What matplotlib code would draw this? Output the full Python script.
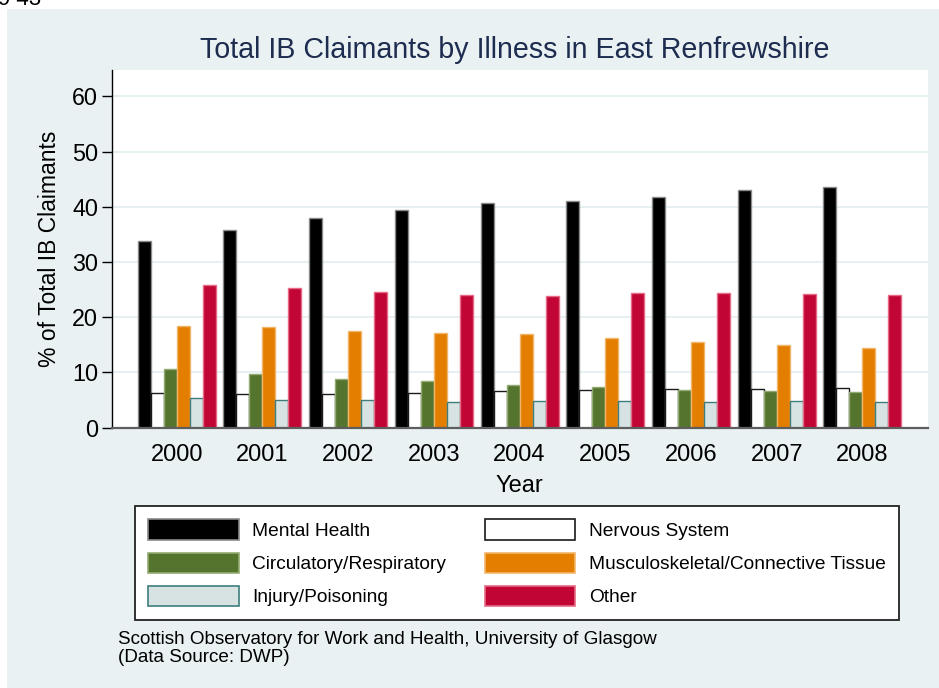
import matplotlib
matplotlib.use("Agg")
import matplotlib.pyplot as plt
from matplotlib.patches import Rectangle, Patch
import numpy as np

plt.rcParams['font.family'] = ['Liberation Sans', 'DejaVu Sans']

years = ["2000", "2001", "2002", "2003", "2004", "2005", "2006", "2007", "2008"]
mental_health = [33.8, 35.8, 38.0, 39.5, 40.7, 41.0, 41.8, 43.0, 43.6]
nervous_system = [6.2, 6.1, 6.1, 6.2, 6.7, 6.8, 7.1, 7.1, 7.2]
circulatory = [10.6, 9.7, 8.8, 8.5, 7.7, 7.3, 6.8, 6.6, 6.5]
musculoskeletal = [18.4, 18.2, 17.5, 17.1, 17.0, 16.2, 15.5, 15.0, 14.4]
injury = [5.3, 5.1, 5.1, 4.7, 4.8, 4.8, 4.7, 4.8, 4.7]
other = [25.8, 25.3, 24.6, 24.1, 23.8, 24.4, 24.4, 24.2, 24.1]

series = [
    ("Mental Health", mental_health, "#000000", "#8a8a8a"),
    ("Nervous System", nervous_system, "#ffffff", "#1a1a1a"),
    ("Circulatory/Respiratory", circulatory, "#55752f", "#93ab72"),
    ("Musculoskeletal/Connective Tissue", musculoskeletal, "#e37e00", "#f2b66b"),
    ("Injury/Poisoning", injury, "#d6e3e2", "#3f7d7d"),
    ("Other", other, "#c10534", "#e66a86"),
]

bg = "#e9f1f3"
W, H = 939, 688

fig = plt.figure(figsize=(W / 100, H / 100), dpi=100)
fig.patch.set_facecolor("white")
fig.add_artist(Rectangle((7 / W, 0), 1, 1 - 9.3 / H, transform=fig.transFigure,
                         facecolor=bg, edgecolor="none", zorder=0))
# clipped remnant of text above the chart
fig.text(-2 / W, 1 - 5 / H, "9 43", fontsize=16, ha="left", va="baseline", color="black")

ax = fig.add_axes([112 / W, 1 - 427.7 / H, (927.7 - 112) / W, (427.7 - 70) / H])
ax.set_facecolor("white")

x = np.arange(len(years))
w = 0.1517
for j, (name, vals, fc, ec) in enumerate(series):
    ax.bar(x + (j - 2.5) * w, vals, width=w, color=fc, edgecolor=ec,
           linewidth=1, label=name, zorder=3)

ax.set_xlim(-0.755, 8.761)
ax.set_ylim(0, 64.8)
ax.set_yticks(range(0, 61, 10))
ax.set_xticks(x)
ax.set_xticklabels(years)
ax.tick_params(axis="y", length=7, width=1, pad=3, labelsize=16.8, color="black")
ax.tick_params(axis="x", length=0, pad=12, labelsize=17)
for t in range(10, 61, 10):
    ax.axhline(t, color="#e6eff1", lw=1.4, zorder=1)

for s in ["top", "right"]:
    ax.spines[s].set_visible(False)
ax.spines["left"].set_color("black")
ax.spines["left"].set_linewidth(1)
ax.spines["bottom"].set_color("#5e5e5e")
ax.spines["bottom"].set_linewidth(1.6)
ax.spines["bottom"].set_zorder(5)

ax.set_xlabel("Year", fontsize=17, labelpad=6)
ax.set_ylabel("% of Total IB Claimants", fontsize=16.5, labelpad=8)
fig.text(515 / W, 1 - 50 / H, "Total IB Claimants by Illness in East Renfrewshire",
         fontsize=20.6, color="#1d2c4f", ha="center", va="center")

# legend filled column by column, so order gives rows: MH/NS, CR/MS, IP/Other
handles = [Patch(facecolor=fc, edgecolor=ec, linewidth=1.2, label=name)
           for name, vals, fc, ec in series]
order = [0, 2, 4, 1, 3, 5]
leg = fig.legend(handles=[handles[i] for i in order], ncol=2, loc="upper left",
                 bbox_to_anchor=(135 / W, 1 - 506 / H),
                 fontsize=13.8, frameon=True, fancybox=False,
                 handlelength=4.7, handleheight=1.25, handletextpad=0.7,
                 labelspacing=0.66, borderpad=0.7, columnspacing=2.05,
                 borderaxespad=0)
leg.get_frame().set_edgecolor("#222222")
leg.get_frame().set_linewidth(1.3)
leg.get_frame().set_facecolor("white")
leg.get_frame().set_alpha(1)

fig.text(118 / W, 1 - 639 / H, "Scottish Observatory for Work and Health, University of Glasgow",
         fontsize=13.6, ha="left", va="center")
fig.text(118 / W, 1 - 657.5 / H, "(Data Source: DWP)", fontsize=13.6, ha="left", va="center")

fig.savefig("out.png", dpi=100, facecolor=fig.get_facecolor())
